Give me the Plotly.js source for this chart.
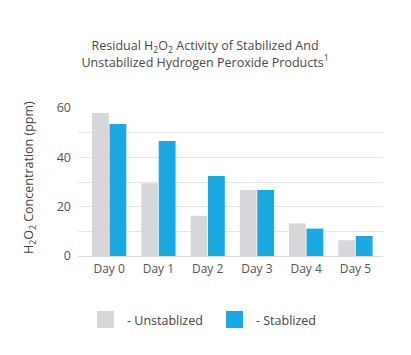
<!DOCTYPE html>
<html>
<head>
<meta charset="utf-8">
<script src="https://cdn.plot.ly/plotly-3.0.1.min.js"></script>
<style>html,body{margin:0;padding:0;background:#fff;}#chart{width:411px;height:355px;}</style>
</head>
<body>
<div id="chart"></div>
<script>
const categories = ["Day 0", "Day 1", "Day 2", "Day 3", "Day 4", "Day 5"];
const unstabilized = [58, 29.5, 16.3, 26.8, 13.2, 6.4];
const stabilized = [53.5, 46.6, 32.4, 26.8, 11.1, 8.1];
const seriesNames = ["- Unstablized", "- Stablized"];
const seriesColors = ["#d5d7d9", "#1ba9e1"];
const yTicks = [0, 20, 40, 60];
const yTitle = "H<sub>2</sub>O<sub>2</sub> Concentration (ppm)";

const font = "Open Sans, Lato, sans-serif";

const traces = [
  {type: "bar", x: categories, y: unstabilized, name: seriesNames[0], marker: {color: seriesColors[0]}, showlegend: false, hoverinfo: "x+y"},
  {type: "bar", x: categories, y: stabilized, name: seriesNames[1], marker: {color: seriesColors[1]}, showlegend: false, hoverinfo: "x+y"}
];

const legendX = [[97, 125], [226, 254]];
const W = 411, H = 355;
const shapes = [], annotations = [];
seriesNames.forEach((n, i) => {
  shapes.push({type: "rect", xref: "paper", yref: "paper",
    x0: 0, x1: 0, y0: 0, y1: 0, fillcolor: seriesColors[i], line: {width: 0}, _px: legendX[i][0]});
  annotations.push({xref: "paper", yref: "paper", text: n, showarrow: false, xanchor: "left", yanchor: "middle",
    font: {family: font, size: 12.5, color: "#444"}, _px: legendX[i][1]});
});

const margin = {l: 78, r: 28, t: 108, b: 99};
const pw = W - margin.l - margin.r, ph = H - margin.t - margin.b;
function px2x(px) { return (px - margin.l) / pw; }
function py2y(py) { return (H - margin.b - py) / ph; }
shapes.forEach(s => { s.x0 = px2x(s._px); s.x1 = px2x(s._px + 17); s.y0 = py2y(328); s.y1 = py2y(311); delete s._px; });
annotations.forEach(a => { a.x = px2x(a._px); a.y = py2y(320); delete a._px; });

// y-axis title as rotated annotation
annotations.push({xref: "paper", yref: "paper", x: px2x(29), y: py2y(178), text: yTitle, textangle: -90,
  showarrow: false, xanchor: "center", yanchor: "middle", font: {family: font, size: 12.5, color: "#444"}});

const layout = {
  width: W, height: H,
  margin: margin,
  paper_bgcolor: "#fff", plot_bgcolor: "#fff",
  title: {
    text: "Residual H<sub>2</sub>O<sub>2</sub> Activity of Stabilized And<br>Unstabilized Hydrogen Peroxide Products<sup>1</sup>",
    font: {family: font, size: 12.5, color: "#4a4a4a"},
    x: 0.499, xref: "container", xanchor: "center",
    y: 0.858, yref: "container", yanchor: "middle"
  },
  barmode: "group",
  bargap: 0.29,
  bargroupgap: 0.04,
  xaxis: {
    type: "category",
    range: [-0.633, 5.56],
    showgrid: false, zeroline: false, showline: false,
    ticks: "",
    ticklabelstandoff: 4,
    tickfont: {family: font, size: 12, color: "#555"},
    fixedrange: true
  },
  yaxis: {
    range: [0, 60],
    tickvals: yTicks,
    ticktext: yTicks.map(String),
    showgrid: true, gridcolor: "#e6e6e6", gridwidth: 1,
    minor: {dtick: 10, showgrid: true, gridcolor: "#e6e6e6", gridwidth: 1},
    zeroline: true, zerolinecolor: "#dcdcdc", zerolinewidth: 1,
    showline: false, ticks: "",
    ticklabelstandoff: 6,
    tickfont: {family: font, size: 12.5, color: "#555"},
    fixedrange: true
  },
  shapes: shapes,
  annotations: annotations,
  showlegend: false
};

Plotly.newPlot("chart", traces, layout, {displayModeBar: false, staticPlot: true});
</script>
</body>
</html>
